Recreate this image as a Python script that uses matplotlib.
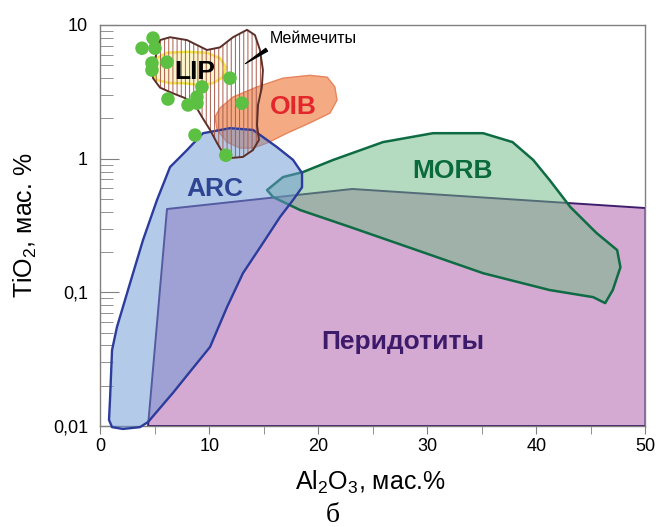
import numpy as np
import matplotlib
matplotlib.use("Agg")
import matplotlib.pyplot as plt
from matplotlib.patches import Polygon
from matplotlib.ticker import FixedLocator, MultipleLocator

plt.rcParams["font.family"] = ["Liberation Sans", "DejaVu Sans"]
plt.rcParams["mathtext.fontset"] = "custom"
plt.rcParams["mathtext.rm"] = "Liberation Sans"
plt.rcParams["mathtext.it"] = "Liberation Sans:italic"
plt.rcParams["hatch.linewidth"] = 0.7

# field outlines: Al2O3 (wt.%), TiO2 (wt.%)
perid_x = [4.36, 6.1, 23.1, 50.0, 50.0]
perid_y = [0.01, 0.42, 0.593, 0.427, 0.01]

arc_x = [7.94, 9.40, 11.88, 13.99, 16.19, 17.66, 18.49, 18.49, 17.66, 16.47, 14.91,
         13.07, 11.61, 10.05, 8.2, 6.65, 4.36, 3.62, 2.06, 1.06, 0.78, 0.87, 1.06,
         1.51, 2.71, 3.90, 5.18, 6.38]
arc_y = [1.16, 1.55, 1.69, 1.64, 1.22, 0.98, 0.78, 0.61, 0.49, 0.366, 0.234,
         0.139, 0.0776, 0.039, 0.0254, 0.0177, 0.0107, 0.0098, 0.0095, 0.0098, 0.0111,
         0.0156, 0.037, 0.055, 0.117, 0.246, 0.49, 0.865]

morb_x = [15.28, 16.74, 18.58, 21.33, 25.92, 30.5, 35.1, 37.8, 39.7, 41.2, 43.1, 45.5,
          47.4, 47.7, 47.0, 46.3, 45.2, 41.2, 35.1, 29.0, 22.9, 18.3, 15.83]
morb_y = [0.582, 0.728, 0.794, 0.977, 1.33, 1.55, 1.55, 1.33, 0.977, 0.692, 0.435, 0.278,
          0.207, 0.154, 0.104, 0.083, 0.092, 0.104, 0.139, 0.207, 0.308, 0.413, 0.516]

oib_x = [10.5, 10.96, 12.16, 14.36, 16.74, 19.2, 20.8, 21.5, 21.7, 21.05, 19.2, 17.1,
         15.3, 14.0, 12.8, 11.6, 10.7]
oib_y = [2.05, 2.39, 2.89, 3.44, 4.0, 4.2, 4.07, 3.44, 2.74, 2.19, 1.85, 1.55,
         1.31, 1.20, 1.20, 1.33, 1.64]

lip_x = [4.82, 6.1, 7.94, 9.77, 10.96, 11.5, 11.24, 10.32, 9.13, 7.57, 6.38, 5.18, 4.54]
lip_y = [5.46, 6.2, 6.3, 6.2, 5.65, 4.84, 4.07, 3.67, 3.55, 3.67, 3.67, 3.87, 4.6]

meim_x = [5.46, 6.38, 7.94, 9.77, 10.96, 12.16, 13.44, 14.17, 14.63, 14.9, 14.8, 14.45,
          14.36, 14.54, 13.99, 13.07, 11.88, 11.24, 10.69, 10.05, 9.31, 8.67, 7.75,
          6.56, 5.46, 4.82, 4.72, 5.1, 5.28]
meim_y = [7.71, 8.1, 7.71, 6.5, 6.8, 8.1, 9.2, 8.4, 6.5, 4.6, 3.4, 2.52,
          1.78, 1.38, 1.16, 1.03, 1.01, 1.10, 1.31, 1.64, 2.05, 2.52, 2.84,
          3.1, 3.4, 4.0, 4.8, 5.96, 7.1]

# samples
pts_x = [4.82, 3.81, 5.0, 4.72, 4.72, 6.1, 11.88, 9.31, 8.85, 8.85, 8.03, 6.19, 12.98, 8.67, 11.5]
pts_y = [7.98, 6.7, 6.7, 5.19, 4.6, 5.27, 4.0, 3.44, 2.89, 2.6, 2.52, 2.79, 2.6, 1.50, 1.06]

x_ticks = [0, 10, 20, 30, 40, 50]
y_ticks = [0.01, 0.1, 1, 10]
y_ticklabels = ["0,01", "0,1", "1", "10"]

fig = plt.figure(figsize=(6.59, 5.27), dpi=100)
ax = fig.add_axes([0.1525, 0.1917, 0.8270, 0.7609])
ax.set_yscale("log")
ax.set_xlim(0, 50)
ax.set_ylim(0.01, 10)


def poly(xs, ys, **kw):
    p = Polygon(np.column_stack([xs, ys]), closed=True, joinstyle="round", **kw)
    ax.add_patch(p)
    return p


poly(perid_x, perid_y, facecolor="#d4aad2", edgecolor="#3d1f6e", lw=1.4, zorder=1)
poly(morb_x, morb_y, facecolor="#6bb981", alpha=0.5, edgecolor="none", zorder=2)
poly(morb_x, morb_y, facecolor="none", edgecolor="#0e6b43", lw=1.8, zorder=2.1)
poly(oib_x, oib_y, facecolor="#f08850", alpha=0.7, edgecolor="none", zorder=3)
poly(oib_x, oib_y, facecolor="none", edgecolor="#e8845a", lw=1.0, zorder=3.1)
poly(arc_x, arc_y, facecolor="#6b97d5", alpha=0.5, edgecolor="none", zorder=4, clip_on=False)
poly(arc_x, arc_y, facecolor="none", edgecolor="#2c3c9c", lw=1.7, zorder=4.1, clip_on=False)
poly(lip_x, lip_y, facecolor="#fbf3c0", alpha=0.8, edgecolor="#f0e020", lw=1.8, zorder=5)
poly(meim_x, meim_y, facecolor="none", edgecolor="#a85a4c", hatch="||||", lw=0, zorder=6)
poly(meim_x, meim_y, facecolor="none", edgecolor="#5b302a", lw=1.4, zorder=6.1)

ax.scatter(pts_x, pts_y, s=95, color="#5cc043", edgecolors="none", zorder=7)

ax.annotate("", xy=(13.07, 5.0), xytext=(15.46, 6.7),
            arrowprops=dict(arrowstyle="wedge,tail_width=0.25", color="black", lw=0.8), zorder=8)
ax.text(15.55, 7.9, "Меймечиты", fontsize=11.5, va="center", ha="left", zorder=8)

lab = dict(fontsize=19, fontweight="bold", ha="center", va="center", zorder=9)
ax.text(8.67, 4.45, "LIP", color="black", **lab)
ax.text(17.66, 2.43, "OIB", color="#e3262b", **lab)
ax.text(10.5, 0.593, "ARC", color="#2e4593", **lab)
ax.text(32.3, 0.807, "MORB", color="#0a6a3b", **lab)
ax.text(27.75, 0.0425, "Перидотиты", color="#3e1a6b", **lab)

for s in ax.spines.values():
    s.set_color("#808080")
    s.set_linewidth(1.0)

ax.xaxis.set_major_locator(FixedLocator(x_ticks))
ax.xaxis.set_minor_locator(MultipleLocator(5))
ax.set_yticks(y_ticks)
ax.set_yticklabels(y_ticklabels)
ax.tick_params(axis="x", which="both", direction="out", length=6, color="#808080",
               labelsize=13, pad=3)
ax.tick_params(axis="y", which="major", direction="in", length=14, color="#808080",
               labelsize=13, pad=9)
ax.tick_params(axis="y", which="minor", direction="in", length=9, color="#808080")
ax.tick_params(axis="y", which="minor", labelleft=False)

ax.set_xlabel("Al$_2$O$_3$, мас.%", fontsize=18, va="baseline")
ax.xaxis.set_label_coords(0.496, -0.16)
ax.set_ylabel("TiO$_2$, мас. %", fontsize=18, va="center")
ax.yaxis.set_label_coords(-0.137, 0.5)

fig.text(0.505, 0.021, "б", fontsize=20, family=["Liberation Serif"], ha="center", va="center")

fig.savefig("out.png", dpi=100)
